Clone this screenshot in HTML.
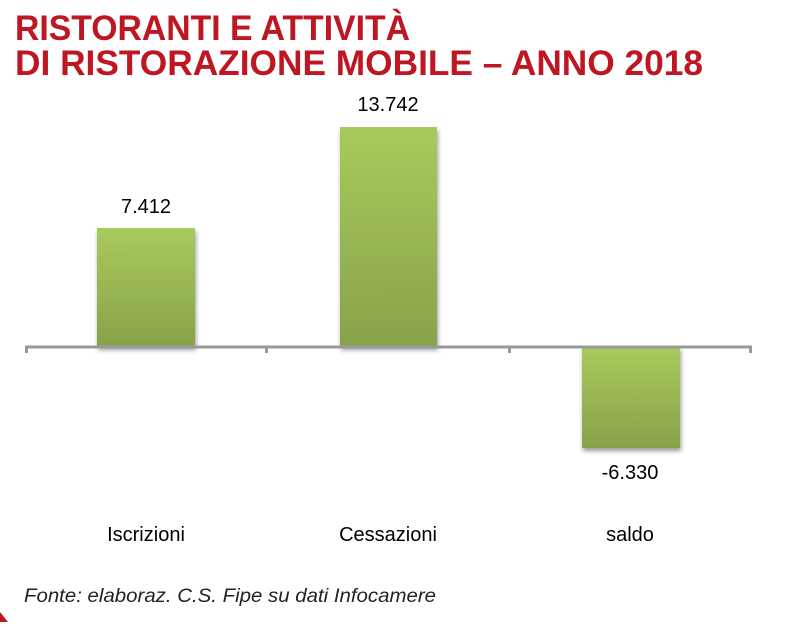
<!DOCTYPE html>
<html><head><meta charset="utf-8"><style>
html,body{margin:0;padding:0;background:#fff;}
</style></head><body>
<svg width="800" height="622" viewBox="0 0 800 622" xmlns="http://www.w3.org/2000/svg">
<defs>
<linearGradient id="g" x1="0" y1="0" x2="0" y2="1">
<stop offset="0" stop-color="#a8ca5c"/>
<stop offset="1" stop-color="#87a34a"/>
</linearGradient>
<filter id="s" x="-10%" y="-10%" width="120%" height="130%"><feGaussianBlur in="SourceAlpha" stdDeviation="2.5"/><feOffset dx="1" dy="3"/><feComponentTransfer><feFuncA type="linear" slope="0.4"/></feComponentTransfer><feMerge><feMergeNode/><feMergeNode in="SourceGraphic"/></feMerge></filter>
</defs>
<g font-family="Liberation Sans, sans-serif" font-weight="bold" fill="#be1622" font-size="35">
<text x="15" y="40" textLength="395" lengthAdjust="spacingAndGlyphs">RISTORANTI E ATTIVITÀ</text>
<text x="15" y="75" textLength="688" lengthAdjust="spacingAndGlyphs">DI RISTORAZIONE MOBILE – ANNO 2018</text>
</g>
<rect x="97" y="228" width="98" height="119" fill="url(#g)" filter="url(#s)"/>
<rect x="340" y="127" width="97" height="220" fill="url(#g)" filter="url(#s)"/>
<rect x="582" y="347" width="98" height="101" fill="url(#g)" filter="url(#s)"/>
<g stroke="#999" stroke-width="3" fill="none">
<line x1="25" y1="347" x2="752" y2="347"/>
<line x1="26.5" y1="347" x2="26.5" y2="353"/>
<line x1="266.5" y1="347" x2="266.5" y2="353"/>
<line x1="509.5" y1="347" x2="509.5" y2="353"/>
<line x1="750.5" y1="347" x2="750.5" y2="353"/>
</g>
<g font-family="Liberation Sans, sans-serif" font-size="20" fill="#000" text-anchor="middle">
<text x="146" y="213">7.412</text>
<text x="388" y="111">13.742</text>
<text x="630" y="479">-6.330</text>
<text x="146" y="541">Iscrizioni</text>
<text x="388" y="541">Cessazioni</text>
<text x="630" y="541">saldo</text>
</g>
<text x="24" y="602" font-family="Liberation Sans, sans-serif" font-style="italic" font-size="19" fill="#222" textLength="412" lengthAdjust="spacingAndGlyphs">Fonte: elaboraz. C.S. Fipe su dati Infocamere</text>
<polygon points="0,612 8,622 0,622" fill="#be1622"/>
</svg>
</body></html>
